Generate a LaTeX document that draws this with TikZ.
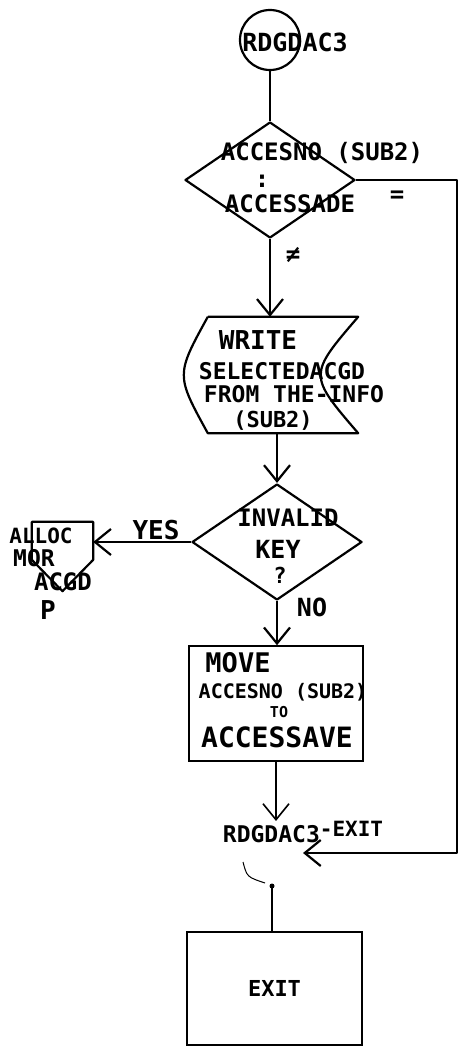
\documentclass[tikz,border=0pt]{standalone}
\usepackage{fontspec}
\newfontfamily\hand{DejaVu Sans Mono}
\usetikzlibrary{shapes.geometric,arrows.meta,calc}
\tikzset{
  ln/.style={line width=2.2pt, line join=round},
  thinln/.style={line width=1.6pt},
  arr/.style={-{Straight Barb[length=16pt,width=26pt]}},
  txt/.style={inner sep=0pt, font=\hand\bfseries\fontsize{#1}{#1}\selectfont},
  txt/.default=23,
  dia/.style={diamond, draw, ln, minimum width=170pt, minimum height=116pt, inner sep=0pt},
}
\begin{document}
\begin{tikzpicture}[x=1pt,y=-1pt]
\fill[white] (0,0) rectangle (462,1056);
\useasboundingbox (0,0) rectangle (462,1056);

% start terminal
\node[circle, draw, ln, minimum size=60pt, inner sep=0pt] (start) at (270,40) {};
\node[txt=25] (starttxt) at (295,42) {RDGDAC3};

% first decision
\node[dia] (d1) at (270,180) {};
\node[txt=24] (d1a) at (322,153) {ACCESNO (SUB2)};
\node[txt=24] (d1b) at (262,181) {:};
\node[txt=24] (d1c) at (290,204) {ACCESSADE};
\node[txt=24] (eq) at (397,197) {=};
\node[txt=24] (ne) at (293,255) {≠};

% stored data (write)
\node[minimum width=150pt, minimum height=116pt, inner sep=0pt] (doc) at (283,375) {};
\draw[ln] (doc.north west) -- (doc.north east)
   .. controls ([xshift=-50pt]doc.east) .. (doc.south east)
   -- (doc.south west)
   .. controls ([xshift=-32pt]doc.west) .. (doc.north west);
\node[txt=26] (w1) at (258,340) {WRITE};
\node[txt=23] (w2) at (282,371) {SELECTEDACGD};
\node[txt=23] (w3) at (294,394) {FROM THE-INFO};
\node[txt=22] (w4) at (273,421) {(SUB2)};

% second decision
\node[dia] (d2) at (277,542) {};
\node[txt=24] (k1) at (288,518) {INVALID};
\node[txt=25] (k2) at (278,549) {KEY};
\node[txt=22] (k3) at (280,575) {?};
\node[txt=26] (yes) at (156,530) {YES};
\node[txt=25] (no) at (312,607) {NO};

% off-page connector
\node[minimum width=61pt, minimum height=69pt, inner sep=0pt] (alloc) at (62.5,556.5) {};
\draw[ln] (alloc.north west) -- (alloc.north east) -- ($(alloc.north east)+(0,38)$)
   -- (alloc.south) -- ($(alloc.north west)+(0,38)$) -- cycle;
\node[txt=21] (al1) at (41,536) {ALLOC};
\node[txt=23] (al2) at (34,558) {MOR};
\node[txt=24] (al3) at (63,582) {ACGD};
\node[txt=26] (al4) at (48,610) {P};

% move box
\node[draw, thinln, minimum width=174pt, minimum height=115pt, inner sep=0pt] (move) at (276,703.5) {};
\node[txt=27] (m1) at (238,663) {MOVE};
\node[txt=20] (m2) at (283,692) {ACCESNO (SUB2)};
\node[txt=15] (m3) at (279,712) {TO};
\node[txt=28] (m4) at (277,737) {ACCESSAVE};

% exit label and box
\node[txt=23] (exitlbl) at (303,832) {RDGDAC3\raisebox{6pt}{\fontsize{21}{21}\selectfont -EXIT}};
\coordinate (exitin) at (303,853);
\coordinate (rbot) at (457,853);
\coordinate (exitdot) at (272,886);
\node[draw, thinln, minimum width=175pt, minimum height=113pt, inner sep=0pt,
      font=\hand\bfseries\fontsize{22}{22}\selectfont] (exitbox) at (274.5,988.5) {EXIT};

% connectors
\draw[ln] (start.south) -- (d1.north);
\draw[ln,arr] (d1.south) -- (d1.south |- doc.north);
\draw[ln,arr] (d2.north |- doc.south) -- (d2.north);
\draw[ln,arr] (d2.west) -- (d2.west -| alloc.east);
\draw[ln,arr] (d2.south) -- (d2.south |- move.north);
\draw[thinln,arr] (move.south) -- (move.south |- exitlbl.north);
\draw[ln,arr] (d1.east) -| (rbot) -- (exitin);
\draw[line width=1pt] (243,862) .. controls (247,877) .. (265,883);
\fill (exitdot) circle (2.5pt);
\draw[thinln] (exitdot) -- (exitdot |- exitbox.north);
\end{tikzpicture}
\end{document}
